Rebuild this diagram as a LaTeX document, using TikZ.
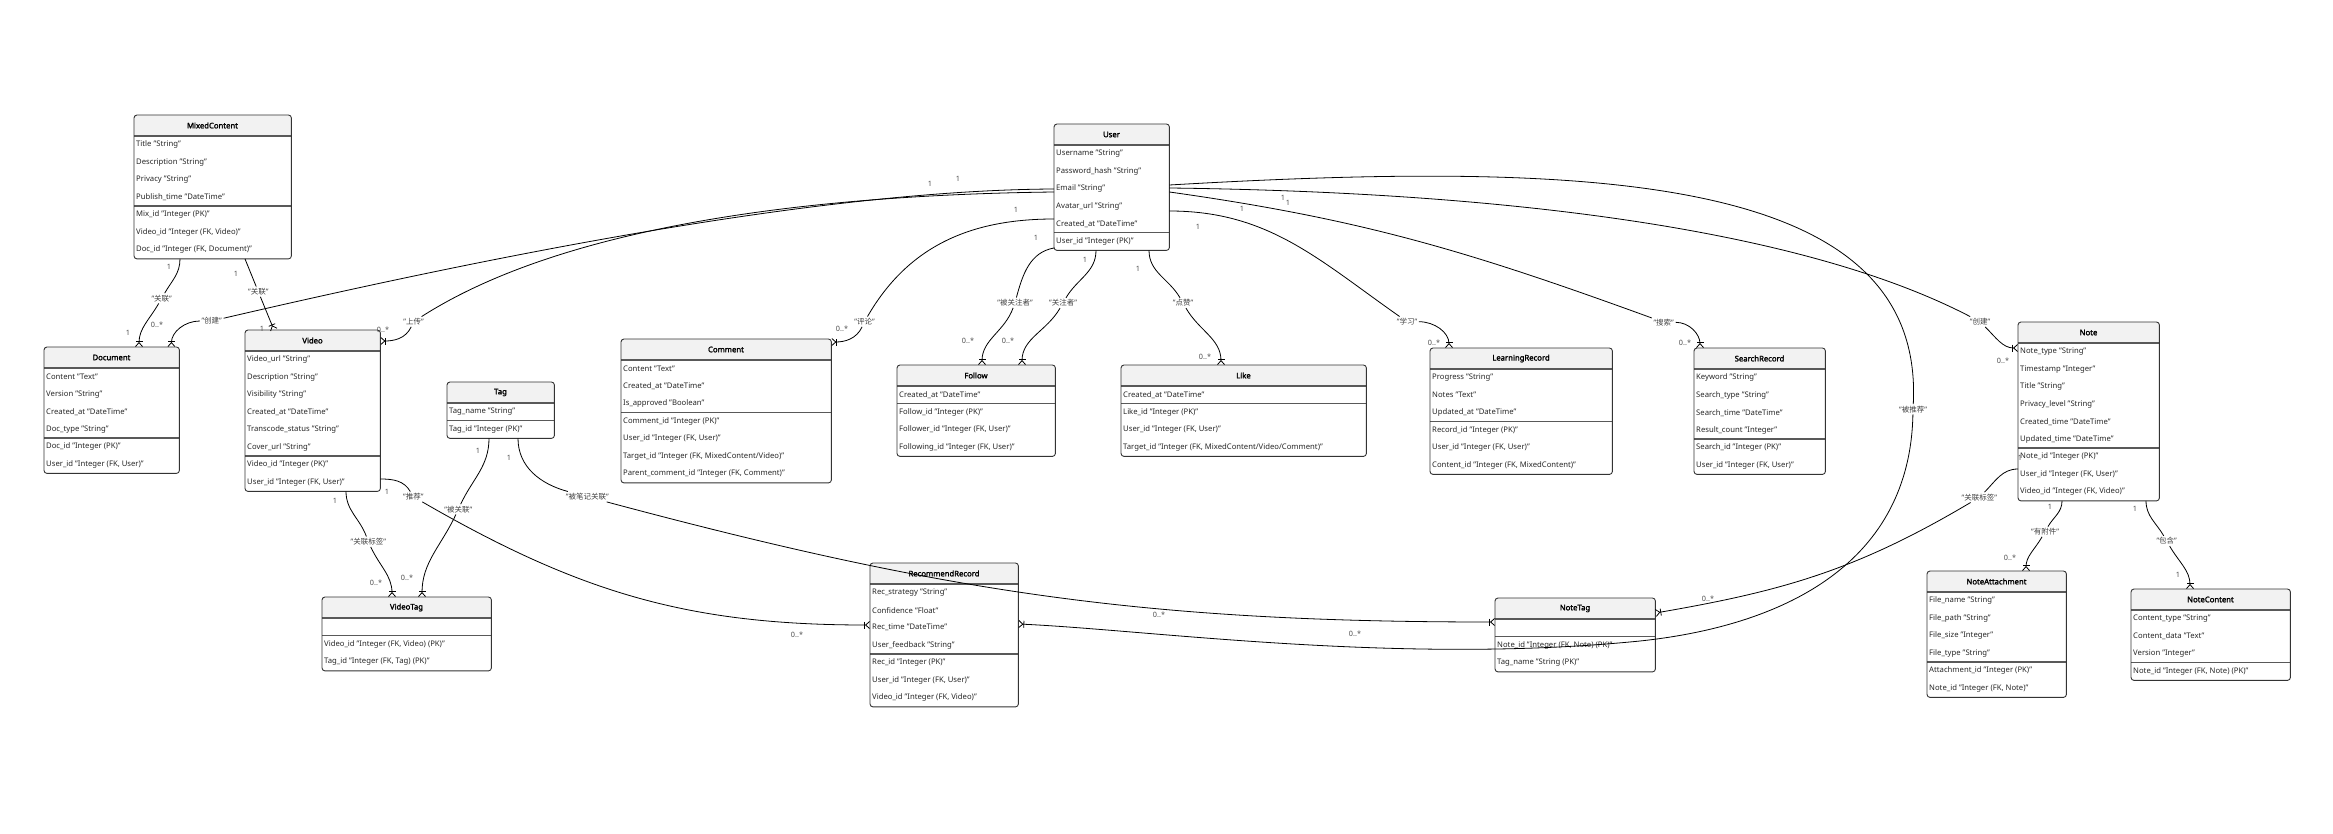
\documentclass[tikz,border=0pt]{standalone}
\usepackage{fontspec}
\setmainfont{Noto Sans}[AutoFakeBold=2]
\newfontfamily\cjk{Noto Sans CJK SC}
\usetikzlibrary{arrows.meta}

\newcommand{\erbox}[7]{%
  \fill[hdr, rounded corners=3pt] (#2,-#3) rectangle ++(#4,-21);
  \fill[hdr] (#2,-#3-10) rectangle ++(#4,-11);
  \node[hdtext] at (#2+#4/2,-#3-10.5) {#5};
  \foreach \txt [count=\i] in {#6} {\node[field] at (#2+2,-#3-12.25-\i*17.5) {\txt}; \xdef\na{\i}}
  \foreach \txt [count=\i] in {#7} {\node[field] at (#2+2,-#3-12.25-\na*17.5-\i*17.5) {\txt}; \xdef\nk{\i}}
  \pgfmathsetmacro\hh{21+(\na+\nk)*17.5}
  \node[inner sep=0pt, minimum width=#4pt, minimum height=\hh pt, anchor=north west] (#1) at (#2,-#3) {};
  \draw[sepline] (#2,-#3-21) -- ++(#4,0);
  \draw[sepline] (#2,-#3-21-\na*17.5) -- ++(#4,0);
  \draw[boxline, rounded corners=3pt] (#1.north west) rectangle (#1.south east);
}

\begin{document}
\begin{tikzpicture}[x=1pt, y=1pt,
  hdr/.style={fill=black!5},
  boxline/.style={draw=black!80, line width=0.9pt},
  sepline/.style={draw=black!65, line width=1.3pt},
  field/.style={anchor=west, inner sep=0pt, font=\fontsize{7.7}{9}\selectfont, text=black!85},
  hdtext/.style={inner sep=0pt, font=\bfseries\fontsize{7.7}{9}\selectfont},
  crow/.style={draw=black, line width=0.8pt, -{Bar[width=7pt] Straight Barb[reversed,length=4pt,width=7pt]}},
  elabel/.style={inner sep=1.5pt, font=\fontsize{7.5}{9}\selectfont, text=black!75},
  mult/.style={inner sep=0pt, font=\fontsize{7.3}{9}\selectfont, text=black!70}]
  \useasboundingbox (0,0) rectangle (2333,-834);

  \erbox{MixedContent}{134}{115}{157}{MixedContent}{{Title "String"},{Description "String"},{Privacy "String"},{Publish\_time "DateTime"}}{{Mix\_id "Integer (PK)"},{Video\_id "Integer (FK, Video)"},{Doc\_id "Integer (FK, Document)"}}
  \erbox{Document}{44}{347}{135}{Document}{{Content "Text"},{Version "String"},{Created\_at "DateTime"},{Doc\_type "String"}}{{Doc\_id "Integer (PK)"},{User\_id "Integer (FK, User)"}}
  \erbox{Video}{245}{330}{135}{Video}{{Video\_url "String"},{Description "String"},{Visibility "String"},{Created\_at "DateTime"},{Transcode\_status "String"},{Cover\_url "String"}}{{Video\_id "Integer (PK)"},{User\_id "Integer (FK, User)"}}
  \erbox{Tag}{447}{382}{107}{Tag}{{Tag\_name "String"}}{{Tag\_id "Integer (PK)"}}
  \erbox{VideoTag}{322}{597}{169}{VideoTag}{{}}{{Video\_id "Integer (FK, Video) (PK)"},{Tag\_id "Integer (FK, Tag) (PK)"}}
  \erbox{User}{1054}{124}{115}{User}{{Username "String"},{Password\_hash "String"},{Email "String"},{Avatar\_url "String"},{Created\_at "DateTime"}}{{User\_id "Integer (PK)"}}
  \erbox{Comment}{621}{339}{210}{Comment}{{Content "Text"},{Created\_at "DateTime"},{Is\_approved "Boolean"}}{{Comment\_id "Integer (PK)"},{User\_id "Integer (FK, User)"},{Target\_id "Integer (FK, MixedContent/Video)"},{Parent\_comment\_id "Integer (FK, Comment)"}}
  \erbox{Follow}{897}{365}{158}{Follow}{{Created\_at "DateTime"}}{{Follow\_id "Integer (PK)"},{Follower\_id "Integer (FK, User)"},{Following\_id "Integer (FK, User)"}}
  \erbox{Like}{1121}{365}{245}{Like}{{Created\_at "DateTime"}}{{Like\_id "Integer (PK)"},{User\_id "Integer (FK, User)"},{Target\_id "Integer (FK, MixedContent/Video/Comment)"}}
  \erbox{LearningRecord}{1430}{348}{182}{LearningRecord}{{Progress "String"},{Notes "Text"},{Updated\_at "DateTime"}}{{Record\_id "Integer (PK)"},{User\_id "Integer (FK, User)"},{Content\_id "Integer (FK, MixedContent)"}}
  \erbox{SearchRecord}{1694}{348}{131}{SearchRecord}{{Keyword "String"},{Search\_type "String"},{Search\_time "DateTime"},{Result\_count "Integer"}}{{Search\_id "Integer (PK)"},{User\_id "Integer (FK, User)"}}
  \erbox{Note}{2018}{322}{141}{Note}{{Note\_type "String"},{Timestamp "Integer"},{Title "String"},{Privacy\_level "String"},{Created\_time "DateTime"},{Updated\_time "DateTime"}}{{Note\_id "Integer (PK)"},{User\_id "Integer (FK, User)"},{Video\_id "Integer (FK, Video)"}}
  \erbox{RecommendRecord}{870}{563}{148}{RecommendRecord}{{Rec\_strategy "String"},{Confidence "Float"},{Rec\_time "DateTime"},{User\_feedback "String"}}{{Rec\_id "Integer (PK)"},{User\_id "Integer (FK, User)"},{Video\_id "Integer (FK, Video)"}}
  \erbox{NoteTag}{1495}{598}{160}{NoteTag}{{}}{{Note\_id "Integer (FK, Note) (PK)"},{Tag\_name "String (PK)"}}
  \erbox{NoteAttachment}{1927}{571}{139}{NoteAttachment}{{File\_name "String"},{File\_path "String"},{File\_size "Integer"},{File\_type "String"}}{{Attachment\_id "Integer (PK)"},{Note\_id "Integer (FK, Note)"}}
  \erbox{NoteContent}{2131}{589}{159}{NoteContent}{{Content\_type "String"},{Content\_data "Text"},{Version "Integer"}}{{Note\_id "Integer (FK, Note) (PK)"}}

  \node[elabel] (lDocC) at (211.7,-321) {"{\cjk 创建}"};
  \node[elabel] (lUp) at (413.6,-321.7) {"{\cjk 上传}"};
  \node[elabel] (lCom) at (864.5,-321.7) {"{\cjk 评论}"};
  \node[elabel] (lFd) at (1015,-302.7) {"{\cjk 被关注者}"};
  \node[elabel] (lFr) at (1063,-303) {"{\cjk 关注者}"};
  \node[elabel] (lLike) at (1183,-303) {"{\cjk 点赞}"};
  \node[elabel] (lLearn) at (1407,-321.7) {"{\cjk 学习}"};
  \node[elabel] (lSearch) at (1663.7,-322.3) {"{\cjk 搜索}"};
  \node[elabel] (lNoteC) at (1980,-321.7) {"{\cjk 创建}"};
  \node[elabel] (lRec) at (1913,-409.3) {"{\cjk 被推荐}"};
  \node[elabel] (lMcDoc) at (161.7,-298.3) {"{\cjk 关联}"};
  \node[elabel] (lMcVid) at (258.3,-291.7) {"{\cjk 关联}"};
  \node[elabel] (lVtag) at (368.3,-541.7) {"{\cjk 关联标签}"};
  \node[elabel] (lTagV) at (458.3,-509.3) {"{\cjk 被关联}"};
  \node[elabel] (lTagN) at (587.3,-496.7) {"{\cjk 被笔记关联}"};
  \node[elabel] (lRecm) at (413.3,-496.7) {"{\cjk 推荐}"};
  \node[elabel] (lNtag) at (1979.3,-497.3) {"{\cjk 关联标签}"};
  \node[elabel] (lAtt) at (2045,-531.7) {"{\cjk 有附件}"};
  \node[elabel] (lCont) at (2166.7,-541) {"{\cjk 包含}"};

  \draw[crow] ([yshift=-65pt]User.north west) .. controls (850,-190) and (560,-240) .. (lDocC) to[out=180,in=90] ([xshift=-8pt]Document.north east);
  \draw[crow] ([yshift=-68pt]User.north west) .. controls (800,-195) and (560,-228) .. (lUp) to[out=245,in=0] ([yshift=-11pt]Video.north east);
  \draw[crow] ([yshift=-95pt]User.north west) to[out=180,in=60] (lCom) to[out=245,in=0] ([yshift=-3pt]Comment.north east);
  \draw[crow] ([yshift=-124pt]User.north west) to[out=190,in=75] (lFd) to[out=250,in=90] ([xshift=85pt]Follow.north west);
  \draw[crow] ([xshift=42pt]User.south west) to[out=270,in=60] (lFr) to[out=240,in=90] ([xshift=125pt]Follow.north west);
  \draw[crow] ([xshift=95pt]User.south west) to[out=270,in=120] (lLike) to[out=-60,in=90] ([xshift=100pt]Like.north west);
  \draw[crow] ([yshift=-87pt]User.north east) to[out=0,in=145] (lLearn) to[out=0,in=90] ([xshift=19pt]LearningRecord.north west);
  \draw[crow] ([yshift=-68pt]User.north east) to[out=-8,in=160] (lSearch) to[out=0,in=90] ([xshift=6pt]SearchRecord.north west);
  \draw[crow] ([yshift=-64pt]User.north east) .. controls (1500,-192) and (1800,-228) .. (lNoteC) to[out=-45,in=180] ([yshift=-26pt]Note.north west);
  \draw[crow] ([yshift=-61pt]User.north east) .. controls (1600,-160) and (1925,-175) .. (lRec) .. controls (1910,-560) and (1790,-625) .. (1640,-641) .. controls (1400,-665) and (1150,-630) .. ([yshift=-61pt]RecommendRecord.north east);
  \draw[crow] ([xshift=46pt]MixedContent.south west) to[out=270,in=60] (lMcDoc) to[out=240,in=90] ([xshift=95pt]Document.north west);
  \draw[crow] ([xshift=111pt]MixedContent.south west) -- (lMcVid) -- ([xshift=29pt]Video.north west);
  \draw[crow] ([xshift=101pt]Video.south west) to[out=270,in=110] (lVtag) to[out=-65,in=90] ([xshift=70pt]VideoTag.north west);
  \draw[crow] ([xshift=42pt]Tag.south west) to[out=270,in=65] (lTagV) to[out=245,in=90] ([xshift=100pt]VideoTag.north west);
  \draw[crow] ([xshift=71pt]Tag.south west) to[out=270,in=165] (lTagN) to[out=-15,in=180] ([yshift=-24pt]NoteTag.north west);
  \draw[crow] ([yshift=-149pt]Video.north east) to[out=0,in=120] (lRecm) to[out=-30,in=180] ([yshift=-62pt]RecommendRecord.north west);
  \draw[crow] ([yshift=-147pt]Note.north west) to[out=180,in=45] (lNtag) .. controls (1857,-570) and (1783,-591) .. ([yshift=-15pt]NoteTag.north east);
  \draw[crow] ([xshift=44pt]Note.south west) to[out=270,in=60] (lAtt) to[out=240,in=90] ([xshift=99pt]NoteAttachment.north west);
  \draw[crow] ([xshift=128pt]Note.south west) to[out=270,in=120] (lCont) to[out=-60,in=90] ([xshift=59pt]NoteContent.north west);

  \foreach \p [count=\k] in {(930,-184),(958,-179),(1016,-210),(1036,-238),(1085,-260),(1138,-269),(1198,-227),(1242,-209),(1283,-198),(1288,-203),(169,-267),(128,-333),(236,-274),(262,-329),(335,-501),(387,-492),(478,-451),(509,-458),(2020,-458),(2050,-507),(2135,-509),(2178,-575)}
    \node[mult] (one\k) at \p {1};
  \foreach \p [count=\k] in {(157,-325),(383,-330),(842,-329),(968,-341),(1008,-341),(1205,-357),(1434,-343),(1685,-343),(2003,-361),(376,-583),(407,-578),(797,-635),(1159,-615),(1355,-634),(1708,-599),(2010,-558)}
    \node[mult] (many\k) at \p {0..*};
\end{tikzpicture}
\end{document}
